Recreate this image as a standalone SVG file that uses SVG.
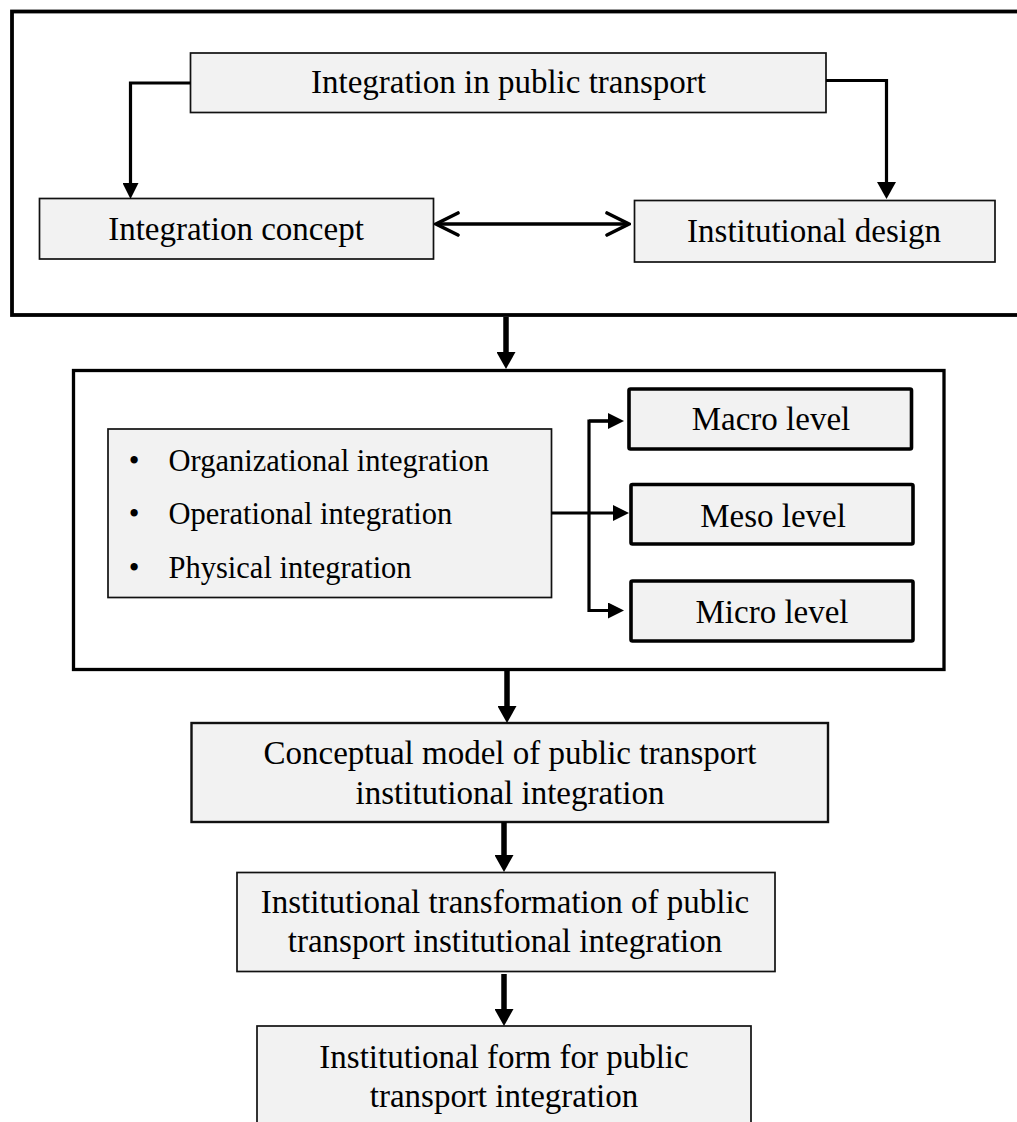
<svg xmlns="http://www.w3.org/2000/svg" width="1017" height="1122" viewBox="0 0 1017 1122">
  <style>
    .frame { fill: none; stroke: #000; }
    .node rect { fill: #f2f2f2; stroke: #111; stroke-width: 1.7; }
    .node.level rect { stroke: #000; stroke-width: 3.6; }
    .node text, .bullets text { font-family: "Liberation Serif", "Times New Roman", serif; fill: #000; }
    .t33 { font-size: 33px; text-anchor: middle; }
    .t31 { font-size: 30.5px; }
    .link { fill: none; stroke: #000; stroke-width: 3.2; stroke-linejoin: miter; }
    .link.thick { stroke-width: 5.5; }
  </style>
  <defs>
    <marker id="head-lg" viewBox="0 0 17 19" refX="0" refY="9.5" markerWidth="17" markerHeight="19" markerUnits="userSpaceOnUse" orient="auto">
      <path d="M0,0 L17,9.5 L0,19 Z" fill="#000"/>
    </marker>
    <marker id="head-md" viewBox="0 0 16 16" refX="0" refY="8" markerWidth="16" markerHeight="16" markerUnits="userSpaceOnUse" orient="auto">
      <path d="M0,0 L16,8 L0,16 Z" fill="#000"/>
    </marker>
    <marker id="chevron" viewBox="-2 -2 26 26" refX="22" refY="11" markerWidth="26" markerHeight="26" markerUnits="userSpaceOnUse" orient="auto-start-reverse">
      <path d="M0,0 L22,11 L0,22" fill="none" stroke="#000" stroke-width="3.6" stroke-linecap="round" stroke-linejoin="miter"/>
    </marker>
  </defs>

  <!-- outer frames -->
  <g id="frame-top">
    <rect class="frame" x="12" y="11.5" width="1030" height="303.5" stroke-width="3.8"/>
  </g>
  <g id="frame-middle">
    <rect class="frame" x="73.5" y="370.5" width="870.5" height="299" stroke-width="3.3"/>
  </g>

  <!-- nodes -->
  <g id="node-integration" class="node">
    <rect x="190.5" y="53" width="635.5" height="59.5"/>
    <text class="t33" x="508.5" y="93">Integration in public transport</text>
  </g>
  <g id="node-concept" class="node">
    <rect x="39.5" y="198.5" width="394" height="60.5"/>
    <text class="t33" x="236" y="240">Integration concept</text>
  </g>
  <g id="node-design" class="node">
    <rect x="634.5" y="200.5" width="360.5" height="61.5"/>
    <text class="t33" x="814" y="242">Institutional design</text>
  </g>
  <g id="node-types" class="node">
    <rect x="108" y="429" width="443.5" height="168.5"/>
    <g class="bullets">
      <text class="t31" x="134" y="471" text-anchor="middle">•</text>
      <text class="t31" x="168.5" y="471">Organizational integration</text>
      <text class="t31" x="134" y="524" text-anchor="middle">•</text>
      <text class="t31" x="168.5" y="524">Operational integration</text>
      <text class="t31" x="134" y="578" text-anchor="middle">•</text>
      <text class="t31" x="168.5" y="578">Physical integration</text>
    </g>
  </g>
  <g id="node-macro" class="node level">
    <rect x="629" y="389" width="282.5" height="60" rx="1.5"/>
    <text class="t33" x="771" y="430">Macro level</text>
  </g>
  <g id="node-meso" class="node level">
    <rect x="631" y="484.5" width="282" height="59.5" rx="1.5"/>
    <text class="t33" x="773" y="527">Meso level</text>
  </g>
  <g id="node-micro" class="node level">
    <rect x="631" y="581" width="282" height="60" rx="1.5"/>
    <text class="t33" x="772" y="623">Micro level</text>
  </g>
  <g id="node-model" class="node">
    <rect x="191.5" y="723" width="636.5" height="99" style="stroke-width:2.4"/>
    <text class="t33" x="510" y="764">Conceptual model of public transport</text>
    <text class="t33" x="510" y="804">institutional integration</text>
  </g>
  <g id="node-transformation" class="node">
    <rect x="237" y="872.5" width="538" height="99"/>
    <text class="t33" x="505" y="913">Institutional transformation of public</text>
    <text class="t33" x="505" y="952">transport institutional integration</text>
  </g>
  <g id="node-form" class="node">
    <rect x="257" y="1026" width="494" height="110"/>
    <text class="t33" x="504" y="1068">Institutional form for public</text>
    <text class="t33" x="504" y="1107">transport integration</text>
  </g>

  <!-- connectors -->
  <g id="connectors">
    <path class="link" d="M190.5,83 H130.5 V183" marker-end="url(#head-md)"/>
    <path class="link" d="M826,80.5 H886.5 V182" marker-end="url(#head-lg)"/>
    <path class="link" d="M436,224 H629" style="stroke-width:3.6" marker-start="url(#chevron)" marker-end="url(#chevron)"/>
    <path class="link thick" d="M506,317 V352" marker-end="url(#head-lg)"/>
    <path class="link" d="M551.5,513 H613" marker-end="url(#head-md)"/>
    <path class="link" d="M608,421 H589 V610.5 H608" marker-end="url(#head-md)"/>
    <path class="link" d="M589,421 H608" marker-end="url(#head-md)"/>
    <path class="link thick" d="M507,671 V706" marker-end="url(#head-lg)"/>
    <path class="link thick" d="M504,822 V855" marker-end="url(#head-lg)"/>
    <path class="link thick" d="M504,974 V1009" marker-end="url(#head-lg)"/>
  </g>
</svg>
